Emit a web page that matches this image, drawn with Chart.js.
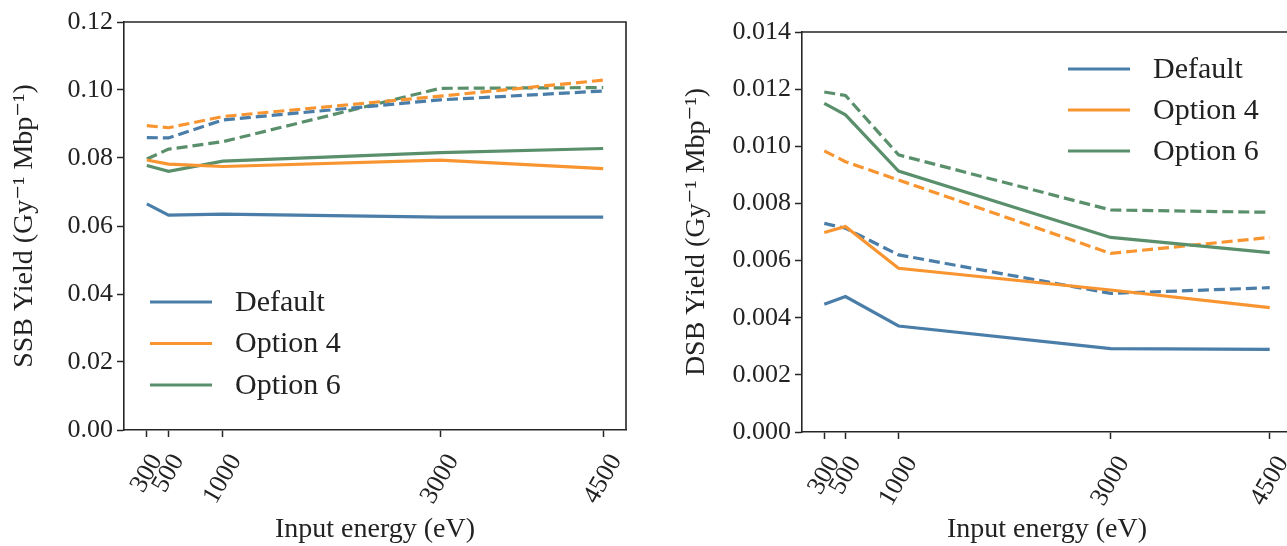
<!DOCTYPE html>
<html><head><meta charset="utf-8">
<script src="https://cdn.jsdelivr.net/npm/chart.js@4/dist/chart.umd.min.js"></script>
<style>
html,body{margin:0;padding:0;overflow:hidden;background:#fff;width:1287px;height:546px;position:relative;}
#c1{position:absolute;left:0;top:0;width:640px;height:546px;}
#c2{position:absolute;left:640px;top:0;width:652px;height:546px;}
</style></head><body>
<canvas id="c1" width="640" height="546"></canvas>
<canvas id="c2" width="652" height="546"></canvas>
<script>
// ---- data ----
const energies = [300, 500, 1000, 3000, 4500];
const tickLabels = ['300', '500', '1000', '3000', '4500'];
const seriesNames = ['Default', 'Option 4', 'Option 6'];

// SSB yield (left panel)
const ssbDefault      = [0.0665, 0.0632, 0.0635, 0.0626, 0.0626];
const ssbOption4      = [0.0794, 0.0782, 0.0775, 0.0794, 0.0769];
const ssbOption6      = [0.0778, 0.0761, 0.0791, 0.0816, 0.0828];
const ssbDefaultDash  = [0.0860, 0.0859, 0.0912, 0.0971, 0.0997];
const ssbOption4Dash  = [0.0895, 0.0889, 0.0922, 0.0982, 0.1029];
const ssbOption6Dash  = [0.0797, 0.0826, 0.0848, 0.1005, 0.1007];

// DSB yield (right panel)
const dsbDefault      = [0.00447, 0.00474, 0.00371, 0.00292, 0.00289];
const dsbOption4      = [0.00698, 0.00719, 0.00573, 0.00497, 0.00435];
const dsbOption6      = [0.01150, 0.01110, 0.00913, 0.00681, 0.00628];
const dsbDefaultDash  = [0.00730, 0.00713, 0.00620, 0.00485, 0.00505];
const dsbOption4Dash  = [0.00984, 0.00946, 0.00882, 0.00625, 0.00681];
const dsbOption6Dash  = [0.01190, 0.01178, 0.00970, 0.00777, 0.00769];

const ssbTicks = [0, 0.02, 0.04, 0.06, 0.08, 0.10, 0.12];
const dsbTicks = [0, 0.002, 0.004, 0.006, 0.008, 0.010, 0.012, 0.014];

// ---- styles ----
const colors = ['#4a7ea9', '#f99530', '#5a8f6b'];
const axisColor = '#262626';
const textColor = '#222222';
const FAM = '"Liberation Serif", "DejaVu Serif", serif';
const TICK_SIZE = 26, TITLE_SIZE = 28, LEG_SIZE = 30;
const LW = 3.2;

function customPlugin(leg) {
  return {
    id: 'custom',
    afterDraw(chart) {
      const ctx = chart.ctx, a = chart.chartArea, xs = chart.scales.x;
      ctx.save();
      // top & right spines
      ctx.strokeStyle = axisColor; ctx.lineWidth = 1.6;
      ctx.beginPath();
      ctx.moveTo(a.left, a.top); ctx.lineTo(a.right, a.top); ctx.lineTo(a.right, a.bottom);
      ctx.stroke();
      // rotated x tick labels (matplotlib style: centred under tick)
      ctx.font = TICK_SIZE + 'px ' + FAM;
      ctx.fillStyle = textColor;
      ctx.textAlign = 'center'; ctx.textBaseline = 'middle';
      const ang = Math.PI / 3;
      energies.forEach((e, i) => {
        const lab = tickLabels[i];
        const w = ctx.measureText(lab).width, h = TICK_SIZE * 0.85;
        const bh = w * Math.sin(ang) + h * Math.cos(ang);
        const x = xs.getPixelForValue(e);
        const cy = a.bottom + 21 + bh / 2;
        ctx.save(); ctx.translate(x, cy); ctx.rotate(-ang);
        ctx.fillText(lab, 0, 0);
        ctx.restore();
      });
      // legend
      ctx.font = LEG_SIZE + 'px ' + FAM;
      ctx.textAlign = 'left';
      seriesNames.forEach((n, i) => {
        const y = leg.y + i * leg.dy;
        ctx.strokeStyle = colors[i]; ctx.lineWidth = LW;
        ctx.beginPath(); ctx.moveTo(leg.x, y); ctx.lineTo(leg.x + 62, y); ctx.stroke();
        ctx.fillStyle = textColor;
        ctx.fillText(n, leg.x + 85, y + 1);
      });
      ctx.restore();
    }
  };
}

function makeChart(id, solid, dashed, yTicks, decimals, yTitle, o) {
  const datasets = [];
  solid.forEach((arr, i) => datasets.push({
    label: seriesNames[i], data: energies.map((e, j) => ({x: e, y: arr[j]})),
    borderColor: colors[i], borderWidth: LW, pointRadius: 0, fill: false, tension: 0
  }));
  dashed.forEach((arr, i) => datasets.push({
    label: seriesNames[i] + ' (dashed)', data: energies.map((e, j) => ({x: e, y: arr[j]})),
    borderColor: colors[i], borderWidth: LW, borderDash: [11, 5], pointRadius: 0, fill: false, tension: 0
  }));
  return new Chart(document.getElementById(id), {
    type: 'line',
    data: {datasets},
    options: {
      responsive: false, animation: false, devicePixelRatio: 1,
      layout: {padding: {top: o.padTop, right: o.padRight, left: 0, bottom: 0}},
      plugins: {legend: {display: false}, tooltip: {enabled: false}},
      scales: {
        x: {
          type: 'linear', min: 90, max: 4710,
          afterBuildTicks: s => { s.ticks = energies.map(v => ({value: v})); },
          afterFit: s => { s.height = o.xHeight; },
          grid: {drawOnChartArea: false, drawTicks: true, tickLength: 7, tickColor: axisColor, tickWidth: 1.5},
          border: {display: true, color: axisColor, width: 1.6},
          ticks: {display: false},
          title: {display: true, text: 'Input energy (eV)', color: textColor,
                  font: {family: FAM, size: TITLE_SIZE, lineHeight: 1.2}, padding: {top: 0, bottom: 0}}
        },
        y: {
          type: 'linear', min: yTicks[0], max: yTicks[yTicks.length - 1],
          afterBuildTicks: s => { s.ticks = yTicks.map(v => ({value: v})); },
          afterFit: s => { s.width = o.yWidth; },
          ticks: {callback: v => Number(v).toFixed(decimals), color: textColor,
                  font: {family: FAM, size: TICK_SIZE}, padding: 4},
          grid: {drawOnChartArea: false, drawTicks: true, tickLength: 7, tickColor: axisColor, tickWidth: 1.5},
          border: {display: true, color: axisColor, width: 1.6},
          title: {display: true, text: yTitle, color: textColor,
                  font: {family: FAM, size: TITLE_SIZE, lineHeight: 1.2}, padding: {top: o.yTitlePad, bottom: 0}}
        }
      }
    },
    plugins: [customPlugin(o.legend)]
  });
}

makeChart('c1',
  [ssbDefault, ssbOption4, ssbOption6],
  [ssbDefaultDash, ssbOption4Dash, ssbOption6Dash],
  ssbTicks, 2, 'SSB Yield (Gy⁻¹ Mbp⁻¹)',
  {padTop: 22, padRight: 14, yWidth: 124, xHeight: 116, yTitlePad: 8,
   legend: {x: 150, y: 302, dy: 41.5}});

makeChart('c2',
  [dsbDefault, dsbOption4, dsbOption6],
  [dsbDefaultDash, dsbOption4Dash, dsbOption6Dash],
  dsbTicks, 3, 'DSB Yield (Gy⁻¹ Mbp⁻¹)',
  {padTop: 32, padRight: 0, yWidth: 162, xHeight: 114, yTitlePad: 40,
   legend: {x: 428, y: 69, dy: 41}});
</script>
</body></html>
